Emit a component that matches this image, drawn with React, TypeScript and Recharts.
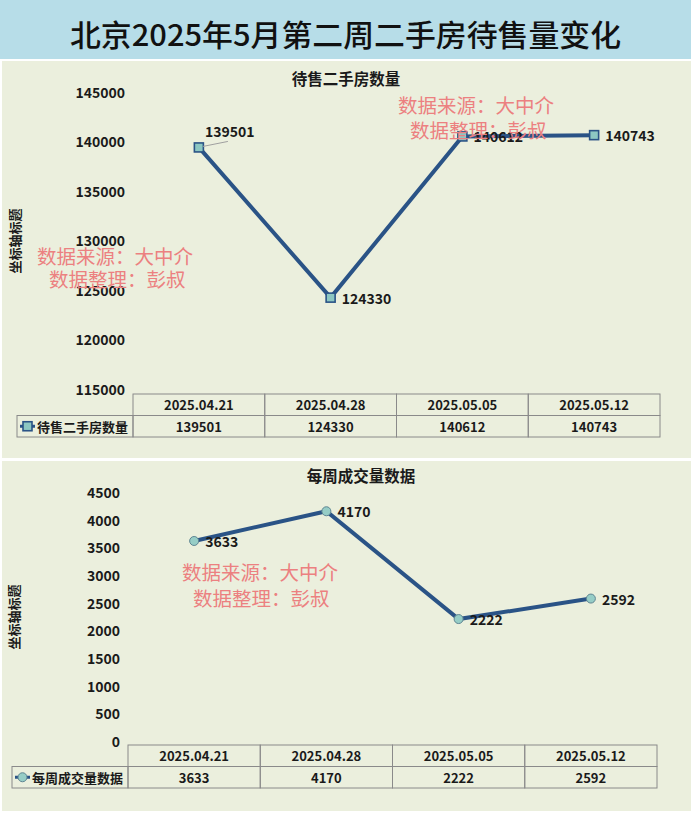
import { Line, LineChart, XAxis, YAxis } from "recharts";

// 数据
const weeks = ["2025.04.21", "2025.04.28", "2025.05.05", "2025.05.12"];
const listingCounts = [139501, 124330, 140612, 140743];
const dealCounts = [3633, 4170, 2222, 2592];
const listingTicks = [115000, 120000, 125000, 130000, 135000, 140000, 145000];
const dealTicks = [0, 500, 1000, 1500, 2000, 2500, 3000, 3500, 4000, 4500];

const listingData = weeks.map((week, idx) => ({ idx, week, value: listingCounts[idx] }));
const dealData = weeks.map((week, idx) => ({ idx, week, value: dealCounts[idx] }));

const FONT = '"Noto Sans CJK SC", "Noto Sans", sans-serif';
const LINE = "#2a5386";
const PANEL = "#ebefdd";
const BORDER = "#8a8a8a";
const WATER = "#ec8080";

const tickStyle = { fill: "#1a1a1a", fontSize: 14, fontWeight: 700, fontFamily: FONT };

function Marker({ x, y, kind }: { x: number; y: number; kind: "square" | "circle" }) {
  if (kind === "square") {
    return (
      <rect x={x - 4.5} y={y - 4.5} width={9} height={9} fill="#8cc7c2" stroke={LINE} strokeWidth={1.6} />
    );
  }
  return <circle cx={x} cy={y} r={4.5} fill="#96cdc6" stroke="#5f8592" strokeWidth={1} />;
}

function makeDot(kind: "square" | "circle", leaderFirst: boolean) {
  return (props: any) => {
    const { cx, cy, index, payload } = props;
    const label = String(payload.value);
    const lifted = leaderFirst && index === 0;
    return (
      <g key={`dot-${index}`}>
        <Marker x={cx} y={cy} kind={kind} />
        {lifted && (
          <line x1={cx + 4} y1={cy - 1} x2={cx + 29} y2={cy - 6} stroke="#a0a0a0" strokeWidth={1} />
        )}
        <text
          x={lifted ? cx + 6 : cx + 11}
          y={lifted ? cy - 16 : cy}
          dominantBaseline="central"
          style={tickStyle}
        >
          {label}
        </text>
      </g>
    );
  };
}

function makeTableTick(opts: {
  band: number;
  rowH: number;
  values: number[];
  legend: string;
  legendLeft: number;
  kind: "square" | "circle";
}) {
  return (props: any) => {
    const { x, y, payload } = props;
    const i = Number(payload.value);
    const left = x - opts.band / 2;
    const r2 = y + opts.rowH;
    const cellText = { fill: "#1a1a1a", fontSize: 13, fontWeight: 700, fontFamily: FONT };
    return (
      <g>
        <rect x={left} y={y} width={opts.band} height={opts.rowH} fill="none" stroke={BORDER} />
        <rect x={left} y={r2} width={opts.band} height={opts.rowH} fill="none" stroke={BORDER} />
        <text x={x} y={y + opts.rowH / 2} textAnchor="middle" dominantBaseline="central" style={cellText}>
          {weeks[i]}
        </text>
        <text x={x} y={r2 + opts.rowH / 2} textAnchor="middle" dominantBaseline="central" style={cellText}>
          {opts.values[i]}
        </text>
        {i === 0 && (
          <g>
            <rect
              x={opts.legendLeft}
              y={r2}
              width={left - opts.legendLeft}
              height={opts.rowH}
              fill="none"
              stroke={BORDER}
            />
            <line
              x1={opts.legendLeft + 3}
              x2={opts.legendLeft + 18}
              y1={r2 + opts.rowH / 2}
              y2={r2 + opts.rowH / 2}
              stroke={LINE}
              strokeWidth={3}
            />
            <Marker x={opts.legendLeft + 10.5} y={r2 + opts.rowH / 2} kind={opts.kind} />
            <text
              x={opts.legendLeft + 20}
              y={r2 + opts.rowH / 2}
              dominantBaseline="central"
              style={cellText}
            >
              {opts.legend}
            </text>
          </g>
        )}
      </g>
    );
  };
}

export default function App() {
  const overlayText = { fontFamily: FONT };
  return (
    <div
      style={{
        position: "absolute",
        left: 0,
        top: 0,
        width: 691,
        height: 815,
        background: "#ffffff",
        overflow: "hidden",
      }}
    >
      <div style={{ position: "absolute", left: 0, top: 0, width: 691, height: 59, background: "#b7dde8" }} />
      <div style={{ position: "absolute", left: 2, top: 61, width: 689, height: 397, background: PANEL }} />
      <div style={{ position: "absolute", left: 2, top: 461, width: 689, height: 350, background: PANEL }} />

      <div style={{ position: "absolute", left: 0, top: 61 }}>
        <LineChart width={691} height={397} data={listingData} margin={{ top: 32, right: 31, bottom: 18, left: 0 }}>
          <XAxis
            dataKey="idx"
            type="number"
            domain={[-0.5, 3.5]}
            ticks={[0, 1, 2, 3]}
            height={50}
            axisLine={false}
            tickLine={false}
            tickSize={0}
            tickMargin={4}
            interval={0}
            tick={makeTableTick({
              band: 527 / 4,
              rowH: 21.5,
              values: listingCounts,
              legend: "待售二手房数量",
              legendLeft: 17,
              kind: "square",
            })}
          />
          <YAxis
            type="number"
            domain={[115000, 145000]}
            ticks={listingTicks}
            width={133}
            axisLine={false}
            tickLine={false}
            interval={0}
            tick={tickStyle}
          />
          <Line
            dataKey="value"
            stroke={LINE}
            strokeWidth={4}
            isAnimationActive={false}
            dot={makeDot("square", true)}
            activeDot={false}
          />
        </LineChart>
      </div>

      <div style={{ position: "absolute", left: 0, top: 461 }}>
        <LineChart width={691} height={350} data={dealData} margin={{ top: 32, right: 34, bottom: 19, left: 0 }}>
          <XAxis
            dataKey="idx"
            type="number"
            domain={[-0.5, 3.5]}
            ticks={[0, 1, 2, 3]}
            height={50}
            axisLine={false}
            tickLine={false}
            tickSize={0}
            tickMargin={3}
            interval={0}
            tick={makeTableTick({
              band: 529 / 4,
              rowH: 21.5,
              values: dealCounts,
              legend: "每周成交量数据",
              legendLeft: 12,
              kind: "circle",
            })}
          />
          <YAxis
            type="number"
            domain={[0, 4500]}
            ticks={dealTicks}
            width={128}
            axisLine={false}
            tickLine={false}
            interval={0}
            tick={tickStyle}
          />
          <Line
            dataKey="value"
            stroke={LINE}
            strokeWidth={4}
            isAnimationActive={false}
            dot={makeDot("circle", false)}
            activeDot={false}
          />
        </LineChart>
      </div>

      <svg
        width={691}
        height={815}
        style={{ position: "absolute", left: 0, top: 0, pointerEvents: "none" }}
      >
        <text
          x={345.5}
          y={33}
          textAnchor="middle"
          dominantBaseline="central"
          textLength={551}
          lengthAdjust="spacingAndGlyphs"
          style={{ ...overlayText, fontSize: 30, fontWeight: 500, fill: "#111" }}
        >
          北京2025年5月第二周二手房待售量变化
        </text>
        <text x={346} y={78} textAnchor="middle" dominantBaseline="central" style={{ ...overlayText, fontSize: 15.5, fontWeight: 700, fill: "#1a1a1a" }}>
          待售二手房数量
        </text>
        <text x={361} y={475} textAnchor="middle" dominantBaseline="central" style={{ ...overlayText, fontSize: 15.5, fontWeight: 700, fill: "#1a1a1a" }}>
          每周成交量数据
        </text>
        <text
          transform="translate(14,241) rotate(-90)"
          textAnchor="middle"
          dominantBaseline="central"
          style={{ ...overlayText, fontSize: 13, fontWeight: 700, fill: "#1a1a1a" }}
        >
          坐标轴标题
        </text>
        <text
          transform="translate(13,617) rotate(-90)"
          textAnchor="middle"
          dominantBaseline="central"
          style={{ ...overlayText, fontSize: 13, fontWeight: 700, fill: "#1a1a1a" }}
        >
          坐标轴标题
        </text>
        <g style={{ ...overlayText, fontSize: 19.5, fill: WATER }}>
          <text x={398} y={104} dominantBaseline="central">数据来源：大中介</text>
          <text x={410} y={129} dominantBaseline="central">数据整理：彭叔</text>
          <text x={37} y={255} dominantBaseline="central">数据来源：大中介</text>
          <text x={49} y={278} dominantBaseline="central">数据整理：彭叔</text>
          <text x={182} y={571} dominantBaseline="central">数据来源：大中介</text>
          <text x={193} y={597} dominantBaseline="central">数据整理：彭叔</text>
        </g>
      </svg>
    </div>
  );
}
